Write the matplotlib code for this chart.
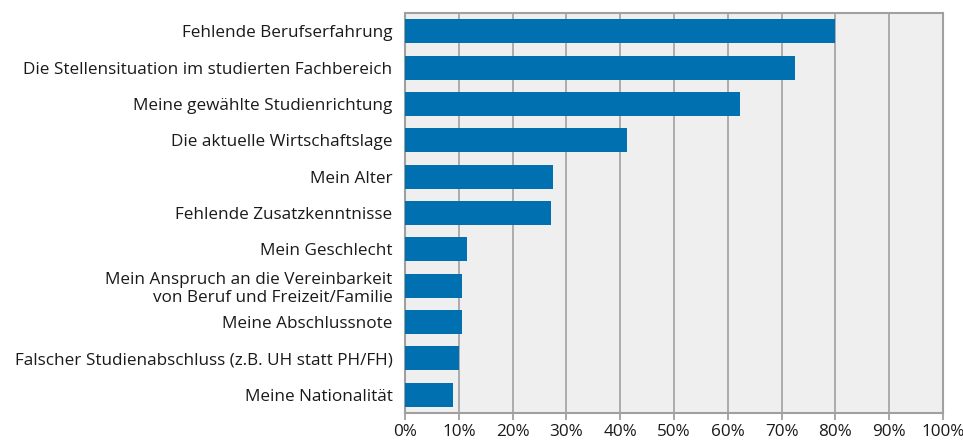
import matplotlib
matplotlib.use("Agg")
import matplotlib.pyplot as plt
from matplotlib.ticker import FuncFormatter

# Gründe für Schwierigkeiten bei der Stellensuche (Anteil in %)
categories = [
    "Fehlende Berufserfahrung",
    "Die Stellensituation im studierten Fachbereich",
    "Meine gewählte Studienrichtung",
    "Die aktuelle Wirtschaftslage",
    "Mein Alter",
    "Fehlende Zusatzkenntnisse",
    "Mein Geschlecht",
    "Mein Anspruch an die Vereinbarkeit\nvon Beruf und Freizeit/Familie",
    "Meine Abschlussnote",
    "Falscher Studienabschluss (z.B. UH statt PH/FH)",
    "Meine Nationalität",
]
values = [79.9, 72.5, 62.3, 41.3, 27.5, 27.1, 11.5, 10.6, 10.6, 10.1, 8.9]
xticks = list(range(0, 101, 10))

plt.rcParams["font.family"] = ["Open Sans", "DejaVu Sans"]

fig = plt.figure(figsize=(9.63, 4.41), dpi=100)
ax = fig.add_axes([0.4206, 0.0635, 0.5587, 0.907])

ypos = list(range(len(categories)))
ax.barh(ypos, values, height=0.66, color="#0070b0", zorder=3)

ax.set_facecolor("#efefef")
ax.set_xlim(0, 100)
ax.set_ylim(len(categories) - 0.5, -0.5)
ax.set_xticks(xticks)
ax.xaxis.set_major_formatter(FuncFormatter(lambda v, _: f"{v:.0f}%"))
ax.set_yticks(ypos)
ax.set_yticklabels(categories, multialignment="right")
ax.tick_params(axis="y", length=0, pad=9, labelsize=12.3, colors="#1a1a1a")
ax.tick_params(axis="x", length=5, width=1.3, color="#a0a0a0", pad=3,
               labelsize=12.3, labelcolor="#1a1a1a")
ax.grid(True, axis="x", color="#a6a6a6", linewidth=1.3, zorder=1)
for side in ax.spines.values():
    side.set_color("#a0a0a0")
    side.set_linewidth(1.5)

fig.savefig("out.png", dpi=100)
